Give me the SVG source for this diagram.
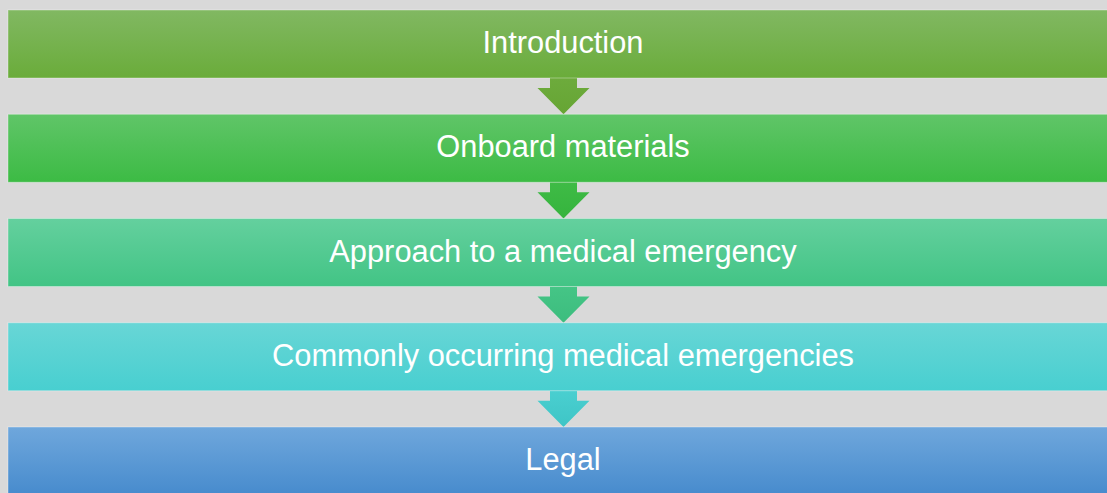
<svg xmlns="http://www.w3.org/2000/svg" width="1107" height="493" viewBox="0 0 1107 493">
  <defs>
    <linearGradient id="g1" x1="0" y1="0" x2="0" y2="1">
      <stop offset="0" stop-color="#81b862"/>
      <stop offset="1" stop-color="#6aac3a"/>
    </linearGradient>
    <linearGradient id="g2" x1="0" y1="0" x2="0" y2="1">
      <stop offset="0" stop-color="#60c568"/>
      <stop offset="1" stop-color="#3cbb44"/>
    </linearGradient>
    <linearGradient id="g3" x1="0" y1="0" x2="0" y2="1">
      <stop offset="0" stop-color="#64d09e"/>
      <stop offset="1" stop-color="#42c485"/>
    </linearGradient>
    <linearGradient id="g4" x1="0" y1="0" x2="0" y2="1">
      <stop offset="0" stop-color="#68d6d6"/>
      <stop offset="1" stop-color="#48cfd0"/>
    </linearGradient>
    <linearGradient id="g5" x1="0" y1="0" x2="0" y2="1">
      <stop offset="0" stop-color="#6fa7dc"/>
      <stop offset="1" stop-color="#478bcd"/>
    </linearGradient>
    <linearGradient id="a1" x1="0" y1="0" x2="0" y2="1">
      <stop offset="0" stop-color="#6dab3c"/>
      <stop offset="1" stop-color="#66a534"/>
    </linearGradient>
    <linearGradient id="a2" x1="0" y1="0" x2="0" y2="1">
      <stop offset="0" stop-color="#3fbb46"/>
      <stop offset="1" stop-color="#35b43d"/>
    </linearGradient>
    <linearGradient id="a3" x1="0" y1="0" x2="0" y2="1">
      <stop offset="0" stop-color="#45c586"/>
      <stop offset="1" stop-color="#3cbd7e"/>
    </linearGradient>
    <linearGradient id="a4" x1="0" y1="0" x2="0" y2="1">
      <stop offset="0" stop-color="#4acfd0"/>
      <stop offset="1" stop-color="#3ec5c6"/>
    </linearGradient>
  </defs>
  <style>
    .box { stroke: #ffffff; stroke-opacity: 0.35; stroke-width: 1; }
    .label { font-family: "Liberation Sans", Arial, sans-serif; font-size: 30.8px; fill: #ffffff; text-anchor: middle; }
  </style>

  <rect x="0" y="0" width="1107" height="493" fill="#d9d9d9"/>

  <g id="connectors">
    <polygon fill="url(#a1)" points="550,78 577,78 577,88 589.5,88 563.5,114.25 537.5,88 550,88"/>
    <polygon fill="url(#a2)" points="550,182.25 577,182.25 577,192.25 589.5,192.25 563.5,218.5 537.5,192.25 550,192.25"/>
    <polygon fill="url(#a3)" points="550,286.5 577,286.5 577,296.5 589.5,296.5 563.5,322.75 537.5,296.5 550,296.5"/>
    <polygon fill="url(#a4)" points="550,390.75 577,390.75 577,400.75 589.5,400.75 563.5,427 537.5,400.75 550,400.75"/>
  </g>

  <g id="introduction">
    <rect class="box" x="8" y="10" width="1110" height="68" fill="url(#g1)"/>
    <text class="label" x="563" y="53">Introduction</text>
  </g>
  <g id="onboard-materials">
    <rect class="box" x="8" y="114.25" width="1110" height="68" fill="url(#g2)"/>
    <text class="label" x="563" y="157.25">Onboard materials</text>
  </g>
  <g id="approach">
    <rect class="box" x="8" y="218.5" width="1110" height="68" fill="url(#g3)"/>
    <text class="label" x="563" y="261.5">Approach to a medical emergency</text>
  </g>
  <g id="common-emergencies">
    <rect class="box" x="8" y="322.75" width="1110" height="68" fill="url(#g4)"/>
    <text class="label" x="563" y="365.75">Commonly occurring medical emergencies</text>
  </g>
  <g id="legal">
    <rect class="box" x="8" y="427" width="1110" height="68" fill="url(#g5)"/>
    <text class="label" x="563" y="470">Legal</text>
  </g>
</svg>
